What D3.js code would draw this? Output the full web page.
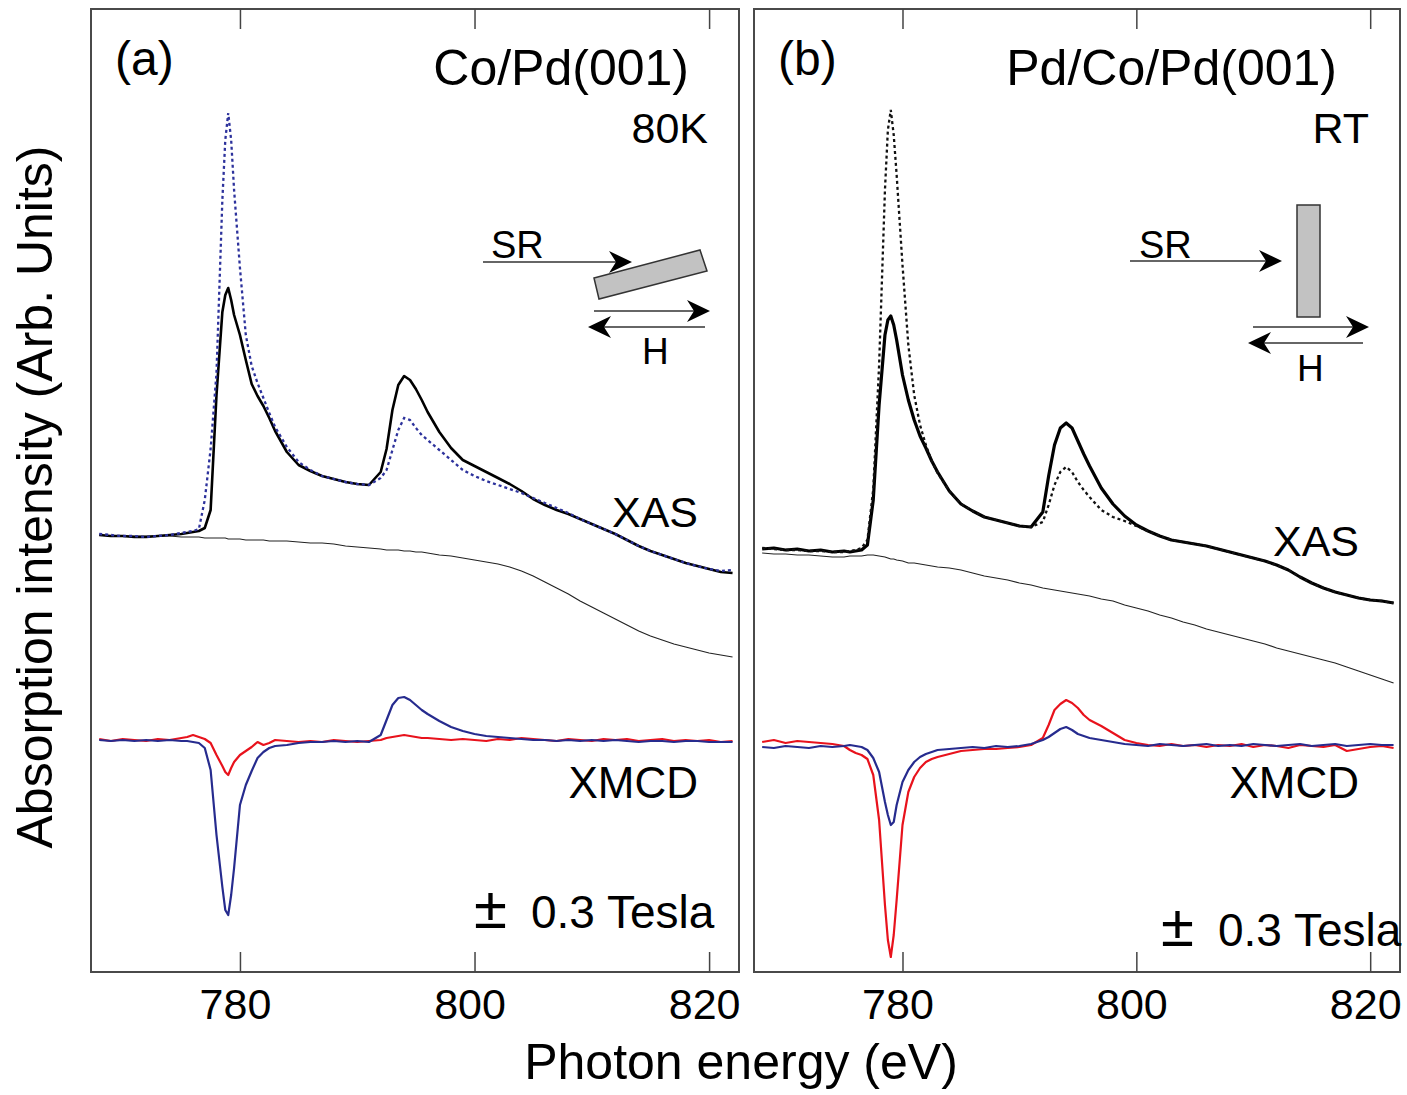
<!DOCTYPE html>
<html>
<head>
<meta charset="utf-8">
<script src="https://cdn.jsdelivr.net/npm/d3@7"></script>
<style>
  body { margin: 0; background: #fff; }
  text { font-family: "Liberation Sans", Arial, Helvetica, sans-serif; fill: #000; }
</style>
</head>
<body>
<div id="container"></div>
<script>
// photon energy grid (eV), shared by all spectra
const energy = [768,769,770,771,772,773,774,775,
  775.5,776,776.5,777,777.5,778,778.5,778.75,779,779.25,779.5,780,780.5,781,781.5,782,782.5,783,
  784,785,786,787,788,789,790,791,792,
  792.5,793,793.5,794,794.5,795,795.5,796,
  797,798,799,800,801,802,803,804,805,806,807,808,809,810,811,812,813,814,815,816,817,818,819,820,821,822];

// (a) Co/Pd(001), 80K  -- intensities in arb. units
const aXasSolid = [43.7,43.6,43.6,43.5,43.5,43.6,43.7,43.8,
  43.9,44.0,44.1,44.4,46.2,57.7,66.0,67.7,68.4,67.2,65.7,63.7,61.2,58.8,57.6,56.6,55.4,54.1,
  52.0,50.7,50.1,49.6,49.3,49.0,48.8,48.7,50.0,
  52.3,56.2,58.7,59.6,59.2,58.3,57.2,56.0,
  54.0,52.4,51.2,50.6,50.0,49.4,48.8,48.1,47.3,46.7,46.2,45.8,45.3,44.8,44.3,43.8,43.2,42.6,42.1,41.7,41.3,40.9,40.6,40.3,40.0,39.9];
const aXasDotted = [43.8,43.7,43.6,43.6,43.5,43.6,43.7,43.9,
  44.0,44.1,44.3,47.2,52.3,59.9,77.2,83.2,85.9,83.2,78.2,70.4,63.7,60.6,58.9,57.4,55.9,54.5,
  52.5,51.0,50.2,49.6,49.3,49.0,48.8,48.7,49.4,
  50.2,52.2,54.2,55.4,55.2,54.4,53.7,53.2,
  52.2,51.2,50.2,49.6,49.1,48.7,48.3,47.9,47.4,46.9,46.4,45.9,45.3,44.8,44.3,43.8,43.2,42.6,42.1,41.7,41.3,40.9,40.6,40.3,40.1,40.2];
const aBackground = [43.7,43.6,43.6,43.6,43.6,43.6,43.6,43.5,
  43.5,43.5,43.5,43.4,43.4,43.4,43.4,43.4,43.3,43.3,43.3,43.3,43.2,43.2,43.2,43.2,43.1,43.1,
  43.1,43.0,42.9,42.9,42.8,42.6,42.5,42.4,42.3,
  42.2,42.2,42.2,42.1,42.1,42.0,42.0,41.9,
  41.7,41.6,41.4,41.2,41.0,40.8,40.5,40.1,39.6,39.0,38.4,37.8,37.1,36.5,35.9,35.3,34.7,34.1,33.6,33.2,32.8,32.5,32.2,31.9,31.7,31.5];
const aXmcdRed = [23.3,23.1,23.3,23.2,23.1,23.3,23.2,23.4,
  23.5,23.7,23.5,23.3,22.9,21.7,20.6,20.0,19.7,20.4,21.0,21.7,22.1,22.5,23.0,22.7,22.9,23.2,
  23.1,23.0,23.1,23.0,23.2,23.1,23.0,23.1,23.2,
  23.4,23.5,23.6,23.7,23.6,23.5,23.4,23.4,
  23.3,23.2,23.3,23.2,23.1,23.3,23.2,23.4,23.3,23.2,23.1,23.3,23.2,23.1,23.3,23.2,23.3,23.1,23.2,23.3,23.1,23.2,23.1,23.2,23.0,23.1];
const aXmcdBlue = [23.2,23.1,23.2,23.1,23.2,23.1,23.2,23.1,
  23.1,23.0,22.9,22.4,20.2,13.7,8.5,6.2,5.7,7.7,10.4,16.7,18.7,20.1,21.4,22.0,22.4,22.6,
  22.7,22.9,23.0,23.0,23.1,23.0,23.1,23.0,23.7,
  25.2,26.7,27.4,27.5,27.2,26.7,26.2,25.8,
  25.1,24.5,24.1,23.8,23.6,23.5,23.4,23.3,23.2,23.2,23.1,23.2,23.1,23.2,23.1,23.2,23.1,23.0,23.1,23.1,23.0,23.1,23.1,23.0,23.0,23.0];

// (b) Pd/Co/Pd(001), RT
const bXasSolid = [42.3,42.4,42.2,42.3,42.1,42.2,42.0,42.1,
  42.0,42.1,42.2,42.7,47.2,56.7,63.7,65.2,65.6,64.7,63.2,59.7,57.2,55.2,53.6,52.4,51.1,50.0,
  48.1,46.8,46.1,45.5,45.2,44.9,44.6,44.5,46.0,
  49.6,52.7,54.4,54.9,54.4,53.1,51.8,50.6,
  48.4,46.8,45.6,44.7,44.1,43.6,43.2,43.0,42.8,42.6,42.3,42.0,41.7,41.4,41.1,40.7,40.2,39.5,38.9,38.4,38.0,37.7,37.4,37.2,37.1,36.9];
const bXasDotted = [42.4,42.3,42.2,42.2,42.1,42.1,42.0,42.0,
  42.1,42.2,42.4,43.2,48.3,60.7,78.2,84.2,86.2,83.7,79.7,70.7,62.7,57.7,54.7,52.7,51.1,49.9,
  48.1,46.8,46.1,45.5,45.2,44.9,44.6,44.5,45.0,
  46.7,48.7,50.0,50.5,50.0,49.0,48.2,47.5,
  46.2,45.5,45.1,44.6,44.1,43.6,43.2,43.0,42.8,42.6,42.3,42.0,41.7,41.4,41.1,40.7,40.2,39.5,38.9,38.4,38.0,37.7,37.4,37.2,37.1,36.9];
const bBackground = [41.9,41.8,41.8,41.7,41.7,41.6,41.5,41.5,
  41.6,41.6,41.6,41.7,41.7,41.6,41.5,41.4,41.3,41.3,41.2,41.1,40.9,40.9,40.8,40.7,40.6,40.5,
  40.4,40.2,39.9,39.6,39.4,39.2,38.9,38.7,38.4,
  38.3,38.2,38.1,38.0,37.9,37.8,37.7,37.6,
  37.3,37.1,36.7,36.4,36.1,35.7,35.4,35.0,34.7,34.3,34.0,33.7,33.4,33.1,32.8,32.4,32.1,31.8,31.5,31.2,30.9,30.5,30.1,29.7,29.3,28.9];
const bXmcdRed = [23.0,23.2,22.9,23.1,23.0,22.9,22.8,22.6,
  22.2,21.9,21.7,21.3,19.7,15.2,6.7,3.2,1.5,3.7,7.2,14.7,18.0,19.5,20.4,21.0,21.3,21.5,
  21.8,22.1,22.2,22.3,22.3,22.4,22.5,22.7,23.4,
  24.7,26.2,26.8,27.2,26.9,26.4,25.7,25.2,
  24.6,23.9,23.2,22.9,22.7,22.6,22.8,22.6,22.7,22.5,22.7,22.6,22.8,22.5,22.7,22.6,22.4,22.7,22.6,22.5,22.7,22.1,22.3,22.5,22.6,22.4];
const bXmcdBlue = [22.5,22.4,22.6,22.5,22.4,22.6,22.5,22.6,
  22.7,22.6,22.5,22.2,21.4,20.0,17.0,15.7,14.7,15.0,16.7,19.0,20.2,21.0,21.5,21.8,22.0,22.2,
  22.3,22.4,22.5,22.4,22.6,22.5,22.6,22.8,23.2,
  23.5,23.9,24.3,24.5,24.2,23.8,23.6,23.4,
  23.2,23.0,22.8,22.7,22.6,22.8,22.7,22.6,22.7,22.8,22.6,22.7,22.6,22.8,22.7,22.6,22.7,22.8,22.6,22.7,22.8,22.6,22.7,22.8,22.7,22.7];

const xTicks = [780, 800, 820];
const xDomain = [767.3, 822.55];
const yDomain = [0, 96.3];

const W = 1407, H = 1095;
const plotTop = 9, plotBottom = 972;

const RED = "#e8121c", BLUE = "#262b8e";

const panels = [
  {left: 91, right: 739, tag: "(a)", sample: "Co/Pd(001)", temp: "80K",
   xas: aXasSolid, xasDot: aXasDotted, bg: aBackground, red: aXmcdRed, blue: aXmcdBlue,
   dotColor: "#2d329c", xasY: 527, teslaX: 474, teslaY: 928, tilted: true},
  {left: 754, right: 1400, tag: "(b)", sample: "Pd/Co/Pd(001)", temp: "RT",
   xas: bXasSolid, xasDot: bXasDotted, bg: bBackground, red: bXmcdRed, blue: bXmcdBlue,
   dotColor: "#111", xasY: 556, teslaX: 1161, teslaY: 946, tilted: false}
];

const svg = d3.select("#container").append("svg")
    .attr("width", W)
    .attr("height", H);

const y = d3.scaleLinear().domain(yDomain).range([plotBottom, plotTop]);

function arrow(g, x1, yy, x2) {
    const dir = x2 > x1 ? 1 : -1;
    g.append("line")
        .attr("x1", x1).attr("y1", yy)
        .attr("x2", x2 - dir * 14).attr("y2", yy)
        .attr("stroke", "#333").attr("stroke-width", 1.6);
    g.append("path")
        .attr("d", `M${x2},${yy} L${x2 - dir * 23},${yy - 11} L${x2 - dir * 16},${yy} L${x2 - dir * 23},${yy + 11} Z`)
        .attr("fill", "#000");
}

panels.forEach((p) => {
    const x = d3.scaleLinear().domain(xDomain).range([p.left, p.right]);
    const g = svg.append("g");

    const line = (vals) => d3.line()
        .x((d, i) => x(energy[i]))
        .y((d) => y(d))(vals);

    // spectra
    g.append("path").attr("d", line(p.bg))
        .attr("fill", "none").attr("stroke", "#222").attr("stroke-width", 1.2);
    g.append("path").attr("d", line(p.xas))
        .attr("fill", "none").attr("stroke", "#000").attr("stroke-width", p.tilted ? 2.6 : 3.2)
        .attr("stroke-linejoin", "round");
    g.append("path").attr("d", line(p.xasDot))
        .attr("fill", "none").attr("stroke", p.dotColor).attr("stroke-width", 2.3)
        .attr("stroke-dasharray", "3,3");
    g.append("path").attr("d", line(p.red))
        .attr("fill", "none").attr("stroke", RED).attr("stroke-width", 2.2)
        .attr("stroke-linejoin", "round");
    g.append("path").attr("d", line(p.blue))
        .attr("fill", "none").attr("stroke", BLUE).attr("stroke-width", 2.2)
        .attr("stroke-linejoin", "round");

    // frame
    g.append("rect")
        .attr("x", p.left).attr("y", plotTop)
        .attr("width", p.right - p.left).attr("height", plotBottom - plotTop)
        .attr("fill", "none").attr("stroke", "#4a4a4a").attr("stroke-width", 2);

    // ticks
    const bx = g.append("g")
        .attr("transform", `translate(0,${plotBottom})`)
        .call(d3.axisBottom(x).tickValues(xTicks).tickSizeInner(-20).tickSizeOuter(0).tickPadding(16));
    bx.select(".domain").remove();
    bx.selectAll(".tick line").attr("stroke", "#444").attr("stroke-width", 1.5);
    bx.selectAll(".tick text").attr("font-size", 43).attr("dx", -5)
        .style("font-family", "'Liberation Sans', Arial, sans-serif");

    const tx = g.append("g")
        .attr("transform", `translate(0,${plotTop})`)
        .call(d3.axisTop(x).tickValues(xTicks).tickSizeInner(-20).tickSizeOuter(0).tickFormat(() => ""));
    tx.select(".domain").remove();
    tx.selectAll(".tick line").attr("stroke", "#444").attr("stroke-width", 1.5);

    // labels
    g.append("text").text(p.tag).attr("x", p.left + 24).attr("y", 75).attr("font-size", 48);
    g.append("text").text(p.sample).attr("x", p.tilted ? 689 : 1337).attr("y", 85)
        .attr("text-anchor", "end").attr("font-size", 50);
    g.append("text").text(p.temp).attr("x", p.right - 31).attr("y", 143)
        .attr("text-anchor", "end").attr("font-size", 43);
    g.append("text").text("XAS").attr("x", p.right - 41).attr("y", p.xasY)
        .attr("text-anchor", "end").attr("font-size", 43);
    g.append("text").text("XMCD").attr("x", p.right - 41).attr("y", 798)
        .attr("text-anchor", "end").attr("font-size", 44);
    g.append("text").text("\u00B1").attr("x", p.teslaX).attr("y", p.teslaY)
        .attr("font-size", 60);
    g.append("text").text("0.3 Tesla").attr("x", p.teslaX + 57).attr("y", p.teslaY)
        .attr("font-size", 46);

    // geometry sketch
    const s = g.append("g");
    if (p.tilted) {
        s.append("text").text("SR").attr("x", 491).attr("y", 258).attr("font-size", 38);
        arrow(s, 483, 262, 632);
        s.append("polygon").attr("points", "594,278 700,250 707,271 599,299")
            .attr("fill", "#c2c2c2").attr("stroke", "#333").attr("stroke-width", 1.5);
        arrow(s, 594, 311, 710);
        arrow(s, 705, 327, 588);
        s.append("text").text("H").attr("x", 642).attr("y", 364).attr("font-size", 37);
    } else {
        s.append("text").text("SR").attr("x", 1139).attr("y", 258).attr("font-size", 38);
        arrow(s, 1130, 261, 1282);
        s.append("rect").attr("x", 1297).attr("y", 205).attr("width", 23).attr("height", 112)
            .attr("fill", "#c2c2c2").attr("stroke", "#333").attr("stroke-width", 1.5);
        arrow(s, 1253, 327, 1369);
        arrow(s, 1363, 343, 1248);
        s.append("text").text("H").attr("x", 1297).attr("y", 381).attr("font-size", 37);
    }
});

// axis titles
svg.append("text")
    .text("Photon energy (eV)")
    .attr("x", 741).attr("y", 1079)
    .attr("text-anchor", "middle")
    .attr("font-size", 50);

svg.append("text")
    .text("Absorption intensity (Arb. Units)")
    .attr("transform", "translate(52,497) rotate(-90)")
    .attr("text-anchor", "middle")
    .attr("font-size", 50);
</script>
</body>
</html>
